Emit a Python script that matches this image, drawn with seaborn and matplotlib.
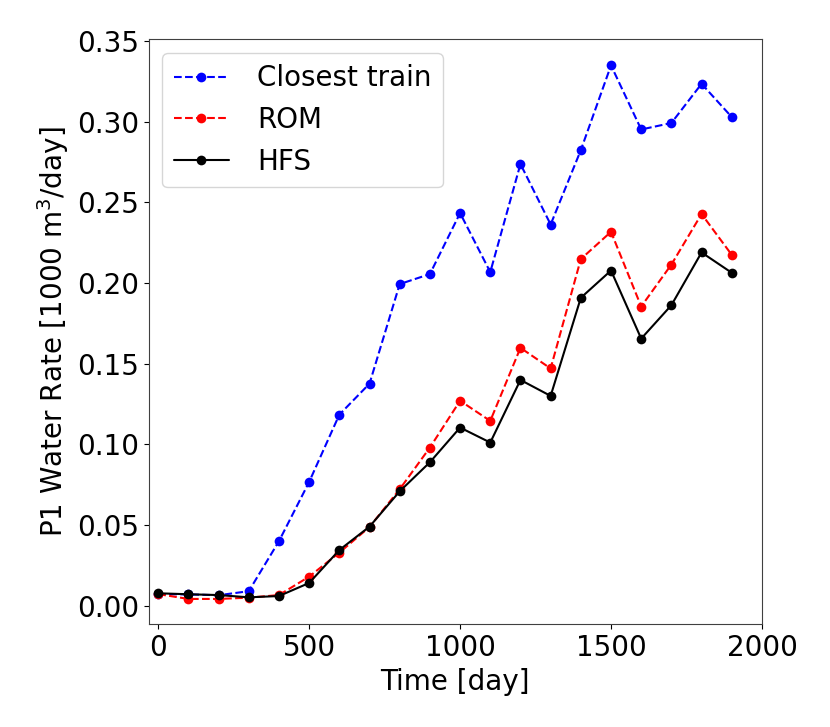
import matplotlib
matplotlib.use("Agg")
import matplotlib.pyplot as plt
import seaborn as sns
import pandas as pd

# time steps [day]
time_days = [0, 100, 200, 300, 400, 500, 600, 700, 800, 900,
             1000, 1100, 1200, 1300, 1400, 1500, 1600, 1700, 1800, 1900]

# P1 water rate [1000 m3/day]
closest_train = [0.0072, 0.0070, 0.0065, 0.0090, 0.0400, 0.0767, 0.1184, 0.1376, 0.1993, 0.2055,
                 0.2433, 0.2067, 0.2737, 0.2362, 0.2823, 0.3348, 0.2951, 0.2991, 0.3234, 0.3028]
rom = [0.0072, 0.0042, 0.0042, 0.0050, 0.0066, 0.0180, 0.0329, 0.0488, 0.0722, 0.0980,
       0.1270, 0.1145, 0.1598, 0.1470, 0.2148, 0.2317, 0.1854, 0.2114, 0.2427, 0.2174]
hfs = [0.0077, 0.0071, 0.0066, 0.0052, 0.0060, 0.0141, 0.0345, 0.0490, 0.0709, 0.0889,
       0.1104, 0.1011, 0.1399, 0.1300, 0.1908, 0.2077, 0.1655, 0.1862, 0.2189, 0.2063]

series = [
    ("Closest train", closest_train, "blue", "--"),
    ("ROM", rom, "red", "--"),
    ("HFS", hfs, "black", "-"),
]

sns.set_style("ticks", {"text.color": "black", "axes.labelcolor": "black",
                        "xtick.color": "black", "ytick.color": "black",
                        "axes.edgecolor": ".25"})
plt.rcParams['font.family'] = ['DejaVu Sans']
fs = 20

fig = plt.figure(figsize=(8.3, 7.27), dpi=100)
ax = fig.add_axes([0.179, 0.1413, 0.739, 0.8047])

for name, values, color, ls in series:
    df = pd.DataFrame({"time": time_days, "rate": values})
    sns.lineplot(data=df, x="time", y="rate", ax=ax, color=color, linestyle=ls,
                 marker="o", markersize=7, markeredgewidth=0, linewidth=1.5,
                 label=name)

ax.set_xlim(-32, 2000)
ax.set_ylim(-0.0115, 0.351)
ax.set_xticks([0, 500, 1000, 1500, 2000])
ax.set_yticks([0.0, 0.05, 0.10, 0.15, 0.20, 0.25, 0.30, 0.35])
ax.yaxis.set_major_formatter(matplotlib.ticker.FormatStrFormatter('%.2f'))
ax.tick_params(labelsize=fs, length=3.5)
ax.set_xlabel("Time [day]", fontsize=fs)
ax.set_ylabel("P1 Water Rate [1000 m$^3$/day]", fontsize=fs)
ax.legend(loc="upper left", fontsize=fs, frameon=True, handletextpad=1.0)

fig.savefig("out.png", dpi=100)
